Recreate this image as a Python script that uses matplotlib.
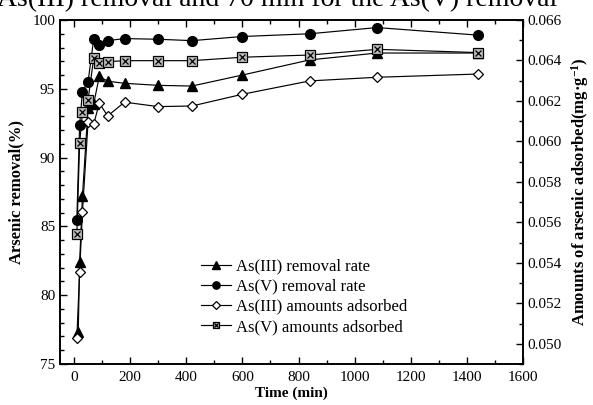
import matplotlib
matplotlib.use("Agg")
import matplotlib.pyplot as plt
from matplotlib.ticker import MultipleLocator
from matplotlib.legend_handler import HandlerTuple

plt.rcParams['font.family'] = ['Liberation Serif', 'DejaVu Serif']
plt.rcParams['mathtext.fontset'] = 'custom'
plt.rcParams['mathtext.rm'] = 'Liberation Serif'
plt.rcParams['mathtext.bf'] = 'Liberation Serif:bold'

# Data
t_as3_rate = [15, 20, 30, 50, 70, 90, 120, 180, 300, 420, 600, 840, 1080, 1440]
as3_rate = [77.3, 82.4, 87.2, 93.6, 93.9, 95.9, 95.55, 95.4, 95.25, 95.2, 96.0, 97.1, 97.6, 97.6]

t_as5 = [10, 20, 30, 50, 70, 90, 120, 180, 300, 420, 600, 840, 1080, 1440]
as5_rate = [85.5, 92.4, 94.8, 95.5, 98.6, 98.2, 98.5, 98.65, 98.6, 98.5, 98.8, 99.0, 99.45, 98.9]

t_as3_amt = [10, 20, 30, 50, 70, 90, 120, 180, 300, 420, 600, 840, 1080, 1440]
as3_amt = [0.05028, 0.05357, 0.05653, 0.06095, 0.06085, 0.06189, 0.06126, 0.06194,
           0.06172, 0.06175, 0.06233, 0.06299, 0.06317, 0.06333]

as5_amt = [0.05542, 0.05991, 0.06144, 0.06205, 0.06411, 0.06386, 0.06394, 0.06399,
           0.06399, 0.06399, 0.06416, 0.06427, 0.06455, 0.06439]

labels = ['As(III) removal rate', 'As(V) removal rate',
          'As(III) amounts adsorbed', 'As(V) amounts adsorbed']

fig = plt.figure(figsize=(5.93, 4.05), dpi=100)
ax = fig.add_axes([60/593, 1-364/405, (523-60)/593, (364-20)/405])
ax2 = ax.twinx()

lw = 0.85
ms = 7
h1, = ax.plot(t_as3_rate, as3_rate, '-', color='black', lw=lw, marker='^', ms=ms,
              mfc='black', mec='black', zorder=3)
h2, = ax.plot(t_as5, as5_rate, '-', color='black', lw=lw, marker='o', ms=ms,
              mfc='black', mec='black', zorder=3)
h3, = ax2.plot(t_as3_amt, as3_amt, '-', color='black', lw=lw, marker='D', ms=5.5,
               mfc='white', mec='black', mew=0.9, zorder=3)
h4, = ax2.plot(t_as5, as5_amt, '-', color='black', lw=lw, marker='s', ms=6.5,
               mfc='#bdbdbd', mec='black', mew=0.9, zorder=3)
h4x, = ax2.plot(t_as5, as5_amt, ' ', marker='x', ms=4, mec='black', mew=0.9, zorder=4)

ax.set_xlim(-50, 1600)
ax.set_ylim(75, 100)
ax2.set_ylim(0.049, 0.066)

ax.xaxis.set_major_locator(MultipleLocator(200))
ax.xaxis.set_minor_locator(MultipleLocator(100))
ax.yaxis.set_major_locator(MultipleLocator(5))
ax.yaxis.set_minor_locator(MultipleLocator(1))
ax2.yaxis.set_major_locator(MultipleLocator(0.002))
ax2.yaxis.set_minor_locator(MultipleLocator(0.001))
ax2.yaxis.set_major_formatter(matplotlib.ticker.FormatStrFormatter('%.3f'))

ax.tick_params(axis='x', which='both', direction='in', top=True, labelsize=11, pad=5)
ax.tick_params(axis='y', which='both', direction='in', left=True, right=False, labelsize=11)
ax.tick_params(which='major', length=5, width=1)
ax.tick_params(which='minor', length=3, width=1)
ax2.tick_params(axis='y', which='both', direction='in', labelsize=11)
ax2.tick_params(which='major', length=5, width=1)
ax2.tick_params(which='minor', length=3, width=1)

for a in (ax, ax2):
    for s in a.spines.values():
        s.set_linewidth(1.2)

ax.set_xlabel('Time (min)', fontsize=11, fontweight='bold', labelpad=2)
ax.set_ylabel('Arsenic removal(%)', fontsize=12, fontweight='bold', labelpad=6)
ax2.set_ylabel(r'Amounts of arsenic adsorbed(mg·g$\mathbf{^{-1}}$)', fontsize=12,
               fontweight='bold', labelpad=5)

leg = ax.legend([h1, h2, h3, (h4, h4x)], labels,
                handler_map={tuple: HandlerTuple(ndivide=1)},
                loc='lower left', bbox_to_anchor=(0.29, 0.065), frameon=False,
                fontsize=12, handlelength=1.8, handletextpad=0.3, labelspacing=0.25,
                borderaxespad=0, markerscale=0.75)
leg.set_zorder(10)

fig.text(-0.005, 1 - 6/405, 'As(III) removal and 70 min for the As(V) removal',
         fontsize=20, va='baseline', ha='left')

fig.savefig('out.png', dpi=100)
